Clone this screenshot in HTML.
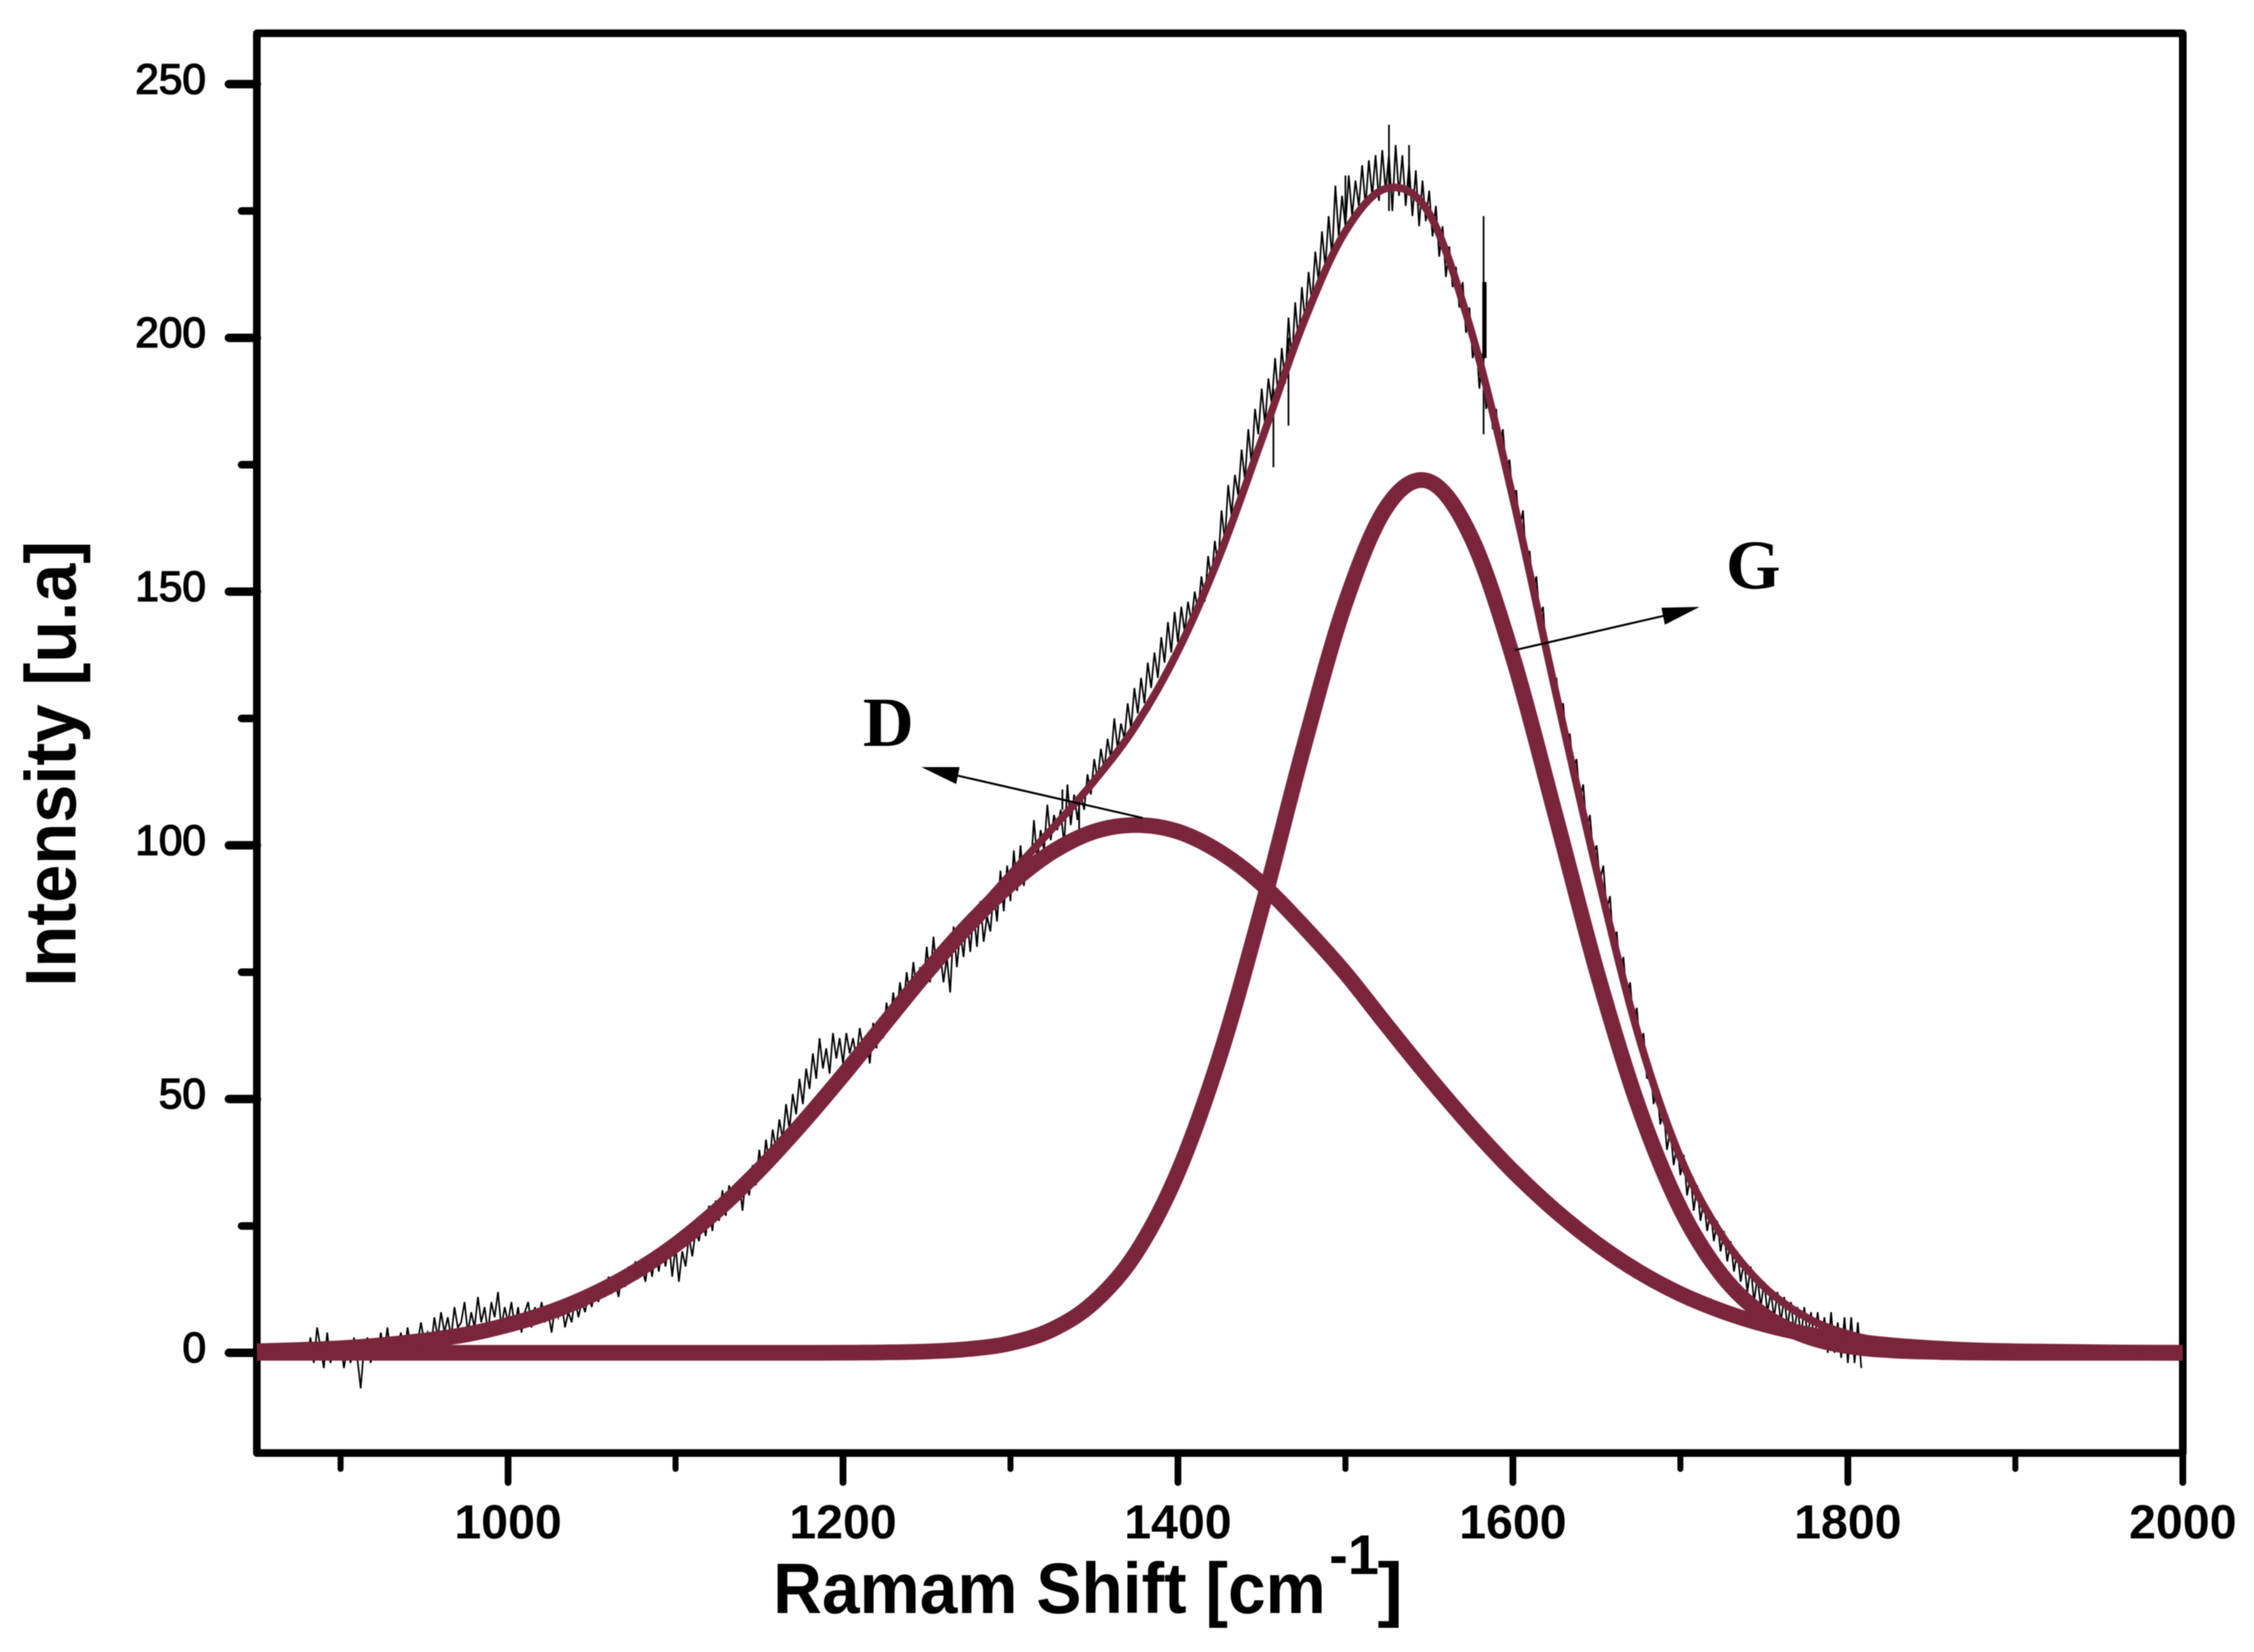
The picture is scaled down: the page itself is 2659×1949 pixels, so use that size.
<!DOCTYPE html>
<html lang="en">
<head>
<meta charset="utf-8">
<title>Raman spectrum with D and G band fit</title>
<style>
html,body{margin:0;padding:0;background:#fff;}
svg{display:block;filter:blur(0.6px);}
text{font-family:"Liberation Sans",Arial,sans-serif;fill:#000;}
</style>
</head>
<body>
<svg id="chart" xmlns="http://www.w3.org/2000/svg" width="2659" height="1949" viewBox="0 0 2659 1949">
  <rect x="0" y="0" width="2659" height="1949" fill="#ffffff"/>
  <rect x="303" y="39.3" width="2272" height="1675" fill="none" stroke="#000" stroke-width="9" stroke-linejoin="round"/>
  <g id="ticks"></g>
  <g id="tick-labels"></g>
  <g id="series"></g>

  <g>
    <line x1="1348" y1="965" x2="1125" y2="914" stroke="#000" stroke-width="2.4"/>
    <polygon points="1087,905 1132,905 1128,925" fill="#000"/>
    <text x="1018" y="880" font-size="83" font-weight="700" style="font-family:'Liberation Serif',serif">D</text>
  </g>
  <g>
    <line x1="1787" y1="767" x2="1965" y2="726" stroke="#000" stroke-width="2.4"/>
    <polygon points="2005,716 1960,717 1964,737" fill="#000"/>
    <text x="2036" y="694" font-size="83" font-weight="700" style="font-family:'Liberation Serif',serif">G</text>
  </g>

  <g>
    <text x="912" y="1903" font-size="84" font-weight="700" textLength="652" lengthAdjust="spacingAndGlyphs">Ramam Shift [cm</text>
    <text x="1568" y="1857" font-size="66" font-weight="700">-1</text>
    <text x="1625" y="1903" font-size="84" font-weight="700" textLength="30" lengthAdjust="spacingAndGlyphs">]</text>
  </g>
  <text transform="translate(89,1164) rotate(-90)" x="0" y="0" font-size="84" font-weight="700" textLength="526" lengthAdjust="spacingAndGlyphs">Intensity [u.a]</text>
</svg>

<script>
// Axis data
const xMajorTicks = [1000, 1200, 1400, 1600, 1800, 2000];
const xMinorTicks = [900, 1100, 1300, 1500, 1700, 1900];
const yMajorTicks = [0, 50, 100, 150, 200, 250];
const yMinorTicks = [25, 75, 125, 175, 225];

// Fitted curves, sampled every 25 cm-1 from 850
const fitStart = 850;
const fitStep = 25;
const dBand = [0.3,0.55,0.9,1.5,2.4,3.6,5.5,8.0,11.4,15.8,21.3,28.1,36.0,45.0,54.7,64.9,75.0,84.3,92.4,98.7,102.7,104,102.7,98.7,92.4,84.0,74.8,64.4,54.2,44.6,35.8,28.1,21.5,16.0,11.6,8.2,5.6,3.7,2.4,1.5,0.9,0.5,0.3,0.2,0.1,0.05,0];
const gBand = [0,0,0,0,0,0,0,0,0,0,0,0,0,0,0.02,0.08,0.25,0.73,1.9,4.6,10.0,19.7,35.6,58.5,87.5,119.2,147.8,166.9,171.7,160.8,137.1,106.5,75.3,48.5,28.4,15.2,7.4,3.3,1.3,0.5,0.2,0.05,0,0,0,0,0];
const fitSum = [0.3,0.55,0.9,1.5,2.4,3.6,5.5,8.0,11.4,15.8,21.3,28.1,36.0,45.0,54.7,65.0,75.2,85.0,94.3,103.3,112.7,123.7,138.3,157.2,179.9,203.0,221.0,229.5,224.5,201.5,168.5,131.0,95.0,62.5,38.5,23.0,13.0,7.0,3.7,2.0,1.1,0.55,0.3,0.2,0.1,0.05,0];

// Measured spectrum, sampled every 2 cm-1 from 880 (each row spans 20 cm-1)
const rawStart = 880;
const rawStep = 2;
const rawSpectrum = [
-1,3,-2,5,1,-3,4,-2,2,-1,
2,-3,1,-2,3,-1,-7,1,3,-2,
2,-1,4,0,5,-1,3,1,4,0,
5,1,3,2,6,2,4,1,7,3,
8,4,7,3,9,5,6,10,4,8,
5,11,6,9,4,10,7,12,5,9,
6,10,5,9,4,8,10,5,9,6,
10,6,8,4,9,7,10,5,8,6,
11,7,10,8,12,9,13,10,14,11,
15,12,14,11,16,13,17,14,18,15,
17,14,19,15,20,16,21,17,22,15,
21,14,20,17,23,19,24,22,27,23,
29,24,30,26,32,27,33,29,31,34,
28,35,31,37,33,40,35,42,37,44,
40,46,42,49,44,51,47,54,49,56,
52,59,54,62,56,60,55,63,58,62,
57,63,59,62,58,64,60,62,57,65,
60,66,62,69,64,71,66,73,68,75,
70,77,71,76,72,80,73,82,75,79,
73,78,71,84,76,83,78,86,79,87,
80,89,81,86,83,91,85,95,87,96,
89,99,91,100,92,97,95,105,97,103,
99,108,101,106,103,107,100,112,104,110,
105,110,107,114,110,117,113,119,115,121,
117,125,119,124,121,128,123,131,126,133,
128,136,131,138,133,141,136,144,138,146,
140,147,142,148,144,150,146,153,148,157,
152,160,155,166,160,171,165,173,169,178,
172,182,175,186,181,190,183,192,187,196,
188,198,191,204,195,207,199,210,203,213,
207,217,211,221,214,224,216,230,220,228,
222,232,224,231,226,234,226,235,228,236,
227,237,229,236,225,238,228,236,226,234,
224,233,222,231,223,229,220,226,216,222,
212,218,210,214,206,211,201,206,196,200,
190,197,186,190,182,186,178,182,174,176,
168,170,162,166,156,158,150,153,145,147,
137,136,131,133,126,128,120,122,115,117,
109,112,103,106,98,100,93,96,87,90,
80,83,74,78,70,73,65,68,60,63,
54,57,49,52,45,48,40,44,37,41,
35,39,31,35,28,33,26,30,24,28,
22,26,20,24,18,22,16,20,14,18,
12,17,10,15,9,14,8,12,7,12,
6,11,5,10,4,9,3,9,3,8,
2,8,1,7,0,8,0,6,-1,7,
-2,7,-2,6,-3
];

// Isolated spikes in the spectrum
const spikePosition = [1331, 1341, 1457, 1466, 1500, 1526, 1538, 1582.5];
const spikeHigh = [111, 108, 190, 200, 232, 242, 238, 224];
const spikeLow = [107, 103, 174.5, 182.7, 222, 225, 228, 181];
const thickSpikePosition = [1583];
const thickSpikeHigh = [211];
const thickSpikeLow = [196];

// Axis functions
function xScale(v) { return 303 + (v - 850) * (2575 - 303) / (2000 - 850); }
function yScale(v) { return 1596 - v * 5.987; }

const NS = 'http://www.w3.org/2000/svg';
function make(tag, attrs, parent) {
  const node = document.createElementNS(NS, tag);
  for (const k in attrs) node.setAttribute(k, attrs[k]);
  parent.appendChild(node);
  return node;
}
function smoothPath(pts) {
  let d = 'M' + pts[0][0].toFixed(1) + ' ' + pts[0][1].toFixed(1);
  for (let i = 0; i < pts.length - 1; i++) {
    const p0 = pts[Math.max(i - 1, 0)], p1 = pts[i], p2 = pts[i + 1], p3 = pts[Math.min(i + 2, pts.length - 1)];
    const c1x = p1[0] + (p2[0] - p0[0]) / 6, c1y = p1[1] + (p2[1] - p0[1]) / 6;
    const c2x = p2[0] - (p3[0] - p1[0]) / 6, c2y = p2[1] - (p3[1] - p1[1]) / 6;
    d += 'C' + c1x.toFixed(1) + ' ' + c1y.toFixed(1) + ' ' + c2x.toFixed(1) + ' ' + c2y.toFixed(1) + ' ' + p2[0].toFixed(1) + ' ' + p2[1].toFixed(1);
  }
  return d;
}

const ticks = document.getElementById('ticks');
const labels = document.getElementById('tick-labels');
const series = document.getElementById('series');
const FRAME_BOTTOM = 1714.3;
const FRAME_LEFT = 303;

xMajorTicks.forEach(function (v) {
  const t = make('line', {x1: xScale(v), x2: xScale(v), y1: FRAME_BOTTOM, y2: 1749, stroke: '#000', 'stroke-width': 8, 'stroke-linecap': 'round'}, ticks);
  
  
  const l = make('text', {x: xScale(v), y: 1815, 'font-size': 57, 'font-weight': 700, 'text-anchor': 'middle'}, labels);
  l.textContent = String(v);
  
  
});
xMinorTicks.forEach(function (v) {
  const t = make('line', {x1: xScale(v), x2: xScale(v), y1: FRAME_BOTTOM, y2: 1733, stroke: '#000', 'stroke-width': 7, 'stroke-linecap': 'round'}, ticks);
  
  
});
yMajorTicks.forEach(function (v) {
  const t = make('line', {x1: FRAME_LEFT, x2: 270, y1: yScale(v), y2: yScale(v), stroke: '#000', 'stroke-width': 10, 'stroke-linecap': 'round'}, ticks);
  
  
  const l = make('text', {x: 243, y: yScale(v) + 11, 'font-size': 50, 'stroke': '#000', 'stroke-width': 1.6, 'text-anchor': 'end'}, labels);
  l.textContent = String(v);
  
  
});
yMinorTicks.forEach(function (v) {
  const t = make('line', {x1: FRAME_LEFT, x2: 285, y1: yScale(v), y2: yScale(v), stroke: '#000', 'stroke-width': 9, 'stroke-linecap': 'round'}, ticks);
  
  
});

// Measured spectrum
const rawPoints = rawSpectrum.map(function (v, i) {
  return xScale(rawStart + i * rawStep).toFixed(1) + ',' + yScale(v).toFixed(1);
}).join(' ');
const rawLine = make('polyline', {points: rawPoints, fill: 'none', stroke: '#000', 'stroke-width': 1.9, 'stroke-linejoin': 'miter'}, series);



spikePosition.forEach(function (x, i) {
  const s = make('line', {x1: xScale(x), x2: xScale(x), y1: yScale(spikeHigh[i]), y2: yScale(spikeLow[i]), stroke: '#000', 'stroke-width': 2}, series);
  
  
});
thickSpikePosition.forEach(function (x, i) {
  const s = make('line', {x1: xScale(x), x2: xScale(x), y1: yScale(thickSpikeHigh[i]), y2: yScale(thickSpikeLow[i]), stroke: '#000', 'stroke-width': 5}, series);
  
  
});

function curvePoints(values) {
  return values.map(function (v, i) { return [xScale(fitStart + i * fitStep), yScale(v)]; });
}
const dLine = make('path', {d: smoothPath(curvePoints(dBand)), fill: 'none', stroke: '#7a253c', 'stroke-width': 18.5}, series);


const gLine = make('path', {d: smoothPath(curvePoints(gBand)), fill: 'none', stroke: '#7a253c', 'stroke-width': 18.5}, series);


const sumLine = make('path', {d: smoothPath(curvePoints(fitSum)), fill: 'none', stroke: '#7a253c', 'stroke-width': 9}, series);


</script>
</body>
</html>
